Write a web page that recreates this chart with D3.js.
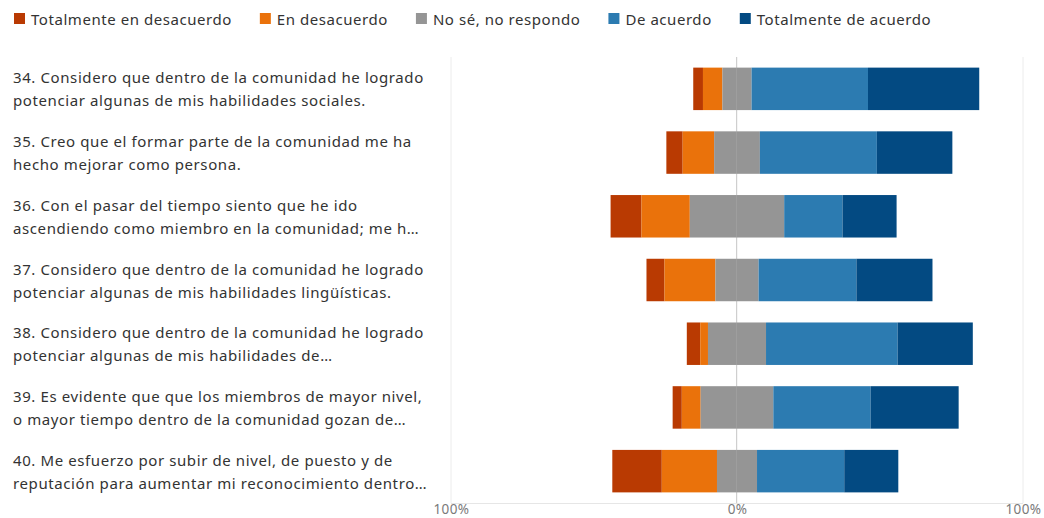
<!DOCTYPE html>
<html>
<head>
<meta charset="utf-8">
<script src="https://cdn.jsdelivr.net/npm/d3@7"></script>
<style>
  html, body { margin: 0; padding: 0; background: #fff; }
  svg { display: block; }
</style>
</head>
<body>
<svg id="chart" width="1044" height="518"></svg>
<script>
// ---------- data ----------
const categories = ["Totalmente en desacuerdo", "En desacuerdo", "No sé, no respondo", "De acuerdo", "Totalmente de acuerdo"];
const colors = ["#B93A02", "#EA720B", "#959595", "#2C7BB1", "#034A82"];

const questionLines = [
  ["34. Considero que dentro de la comunidad he logrado", "potenciar algunas de mis habilidades sociales."],
  ["35. Creo que el formar parte de la comunidad me ha", "hecho mejorar como persona."],
  ["36. Con el pasar del tiempo siento que he ido", "ascendiendo como miembro en la comunidad; me h…"],
  ["37. Considero que dentro de la comunidad he logrado", "potenciar algunas de mis habilidades lingüísticas."],
  ["38. Considero que dentro de la comunidad he logrado", "potenciar algunas de mis habilidades de…"],
  ["39. Es evidente que que los miembros de mayor nivel,", "o mayor tiempo dentro de la comunidad gozan de…"],
  ["40. Me esfuerzo por subir de nivel, de puesto y de", "reputación para aumentar mi reconocimiento dentro…"]
];

// percentages per answer category, one entry per question
const totalmenteDesacuerdo = [3.4, 5.7, 10.8, 6.3, 4.7, 3.2, 17.3];
const enDesacuerdo         = [6.8, 11.0, 16.9, 17.8, 2.7, 6.6, 19.3];
const noSe                 = [10.2, 16.0, 33.0, 15.1, 20.3, 25.4, 14.0];
const deAcuerdo            = [40.7, 40.9, 20.4, 34.2, 46.0, 34.0, 30.5];
const totalmenteAcuerdo    = [38.9, 26.4, 18.9, 26.6, 26.3, 30.8, 18.9];

const tickValues = [-100, 0, 100];
const tickLabels = ["100%", "0%", "100%"];

// ---------- build ----------
const series = [totalmenteDesacuerdo, enDesacuerdo, noSe, deAcuerdo, totalmenteAcuerdo];
const rows = questionLines.map((lines, i) => {
  const vals = series.map(s => s[i]);
  let start = -(vals[0] + vals[1] + vals[2] / 2);
  const segs = vals.map((v, k) => {
    const seg = { k, x0: start, x1: start + v };
    start += v;
    return seg;
  });
  return { i, lines, segs };
});

const svg = d3.select("#chart");
const FONT = "'Noto Sans', 'Open Sans', sans-serif";

const x = d3.scaleLinear().domain([-100, 100]).range([451, 1023]);
const y = d3.scaleBand().domain(d3.range(rows.length)).range([57, 503])
  .paddingInner(1 / 3).paddingOuter(1 / 6);

// gridlines
const grid = svg.append("g");
grid.selectAll("line").data(tickValues).join("line")
  .attr("x1", d => x(d)).attr("x2", d => x(d))
  .attr("y1", 57).attr("y2", 503)
  .attr("stroke", "#ececec").attr("stroke-width", 1);

// baseline
svg.append("line")
  .attr("x1", x(-100)).attr("x2", x(100))
  .attr("y1", 503.5).attr("y2", 503.5)
  .attr("stroke", "#e6e6e6");

// bars
const rowG = svg.append("g").selectAll("g").data(rows).join("g");
rowG.selectAll("rect").data(d => d.segs).join("rect")
  .attr("x", d => x(d.x0))
  .attr("width", d => Math.max(0, x(d.x1) - x(d.x0)))
  .attr("y", function () { return y(d3.select(this.parentNode).datum().i); })
  .attr("height", y.bandwidth())
  .attr("fill", d => colors[d.k]);

// center line over bars
svg.append("line")
  .attr("x1", x(0) - 0.5).attr("x2", x(0) - 0.5)
  .attr("y1", 57).attr("y2", 503)
  .attr("stroke", "#a8a8a8").attr("stroke-opacity", 0.5);

// axis labels
const axis = d3.axisBottom(x).tickValues(tickValues)
  .tickFormat((d, i) => tickLabels[i]).tickSize(0).tickPadding(0);
const axG = svg.append("g").attr("transform", "translate(0,504)").call(axis);
axG.select(".domain").remove();
axG.selectAll("text")
  .attr("font-family", FONT).attr("font-size", 13.5)
  .attr("letter-spacing", 0.4)
  .attr("fill", "#7a7a7a").attr("dy", "0.72em");

// question labels
const lab = svg.append("g").selectAll("text").data(rows).join("text")
  .attr("font-family", FONT).attr("font-size", 15).attr("letter-spacing", 0.6).attr("fill", "#333");
lab.selectAll("tspan").data(d => d.lines.map((t, j) => ({ t, j, i: d.i }))).join("tspan")
  .attr("x", 13)
  .attr("y", d => y(d.i) + y.bandwidth() / 2 + (d.j === 0 ? -11.5 : 11.5))
  .attr("dominant-baseline", "central")
  .text(d => d.t);

// legend
const legend = svg.append("g");
let lx = 14;
categories.forEach((c, k) => {
  const g = legend.append("g").attr("transform", `translate(${lx},0)`);
  g.append("rect").attr("x", 0).attr("y", 13).attr("width", 11).attr("height", 11).attr("fill", colors[k]);
  const t = g.append("text").attr("x", 17).attr("y", 19).attr("dominant-baseline", "central")
    .attr("font-family", FONT).attr("font-size", 15).attr("letter-spacing", 0.55)
    .attr("fill", "#333").text(c);
  lx += 17 + t.node().getComputedTextLength() + 28;
});
</script>
</body>
</html>
